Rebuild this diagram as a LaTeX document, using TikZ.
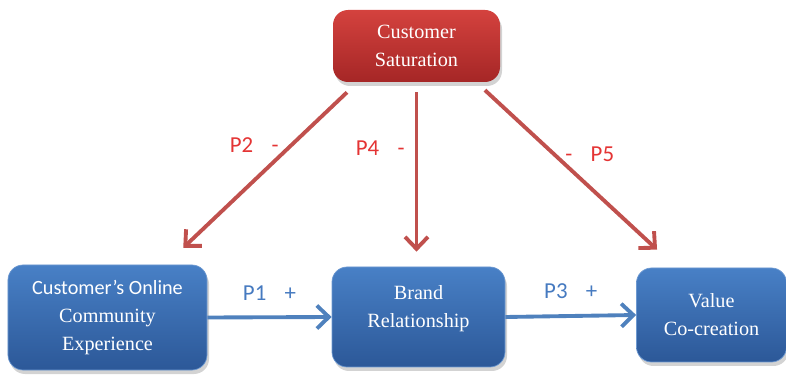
\documentclass[tikz,border=0pt]{standalone}
\usepackage{fontspec}
\setmainfont{Liberation Serif}
\newfontfamily\calibri{Carlito}
\usetikzlibrary{arrows.meta,shadows}

\definecolor{redtop}{RGB}{212,66,62}
\definecolor{redbot}{RGB}{165,38,38}
\definecolor{bluetop}{RGB}{72,128,198}
\definecolor{bluebot}{RGB}{44,88,152}
\definecolor{negred}{RGB}{192,80,77}
\definecolor{posblue}{RGB}{79,129,189}
\definecolor{lblred}{RGB}{228,52,52}
\definecolor{lblblue}{RGB}{70,122,192}

\begin{document}
\begin{tikzpicture}[>={Straight Barb[length=2.4mm,width=4.6mm]},
    box/.style={rounded corners=0.3cm,align=center,text=white,
                font=\fontsize{11.5}{16}\selectfont,
                drop shadow={opacity=0.35,shadow xshift=0.04cm,shadow yshift=-0.08cm}},
    redbox/.style={box,top color=redtop,bottom color=redbot},
    bluebox/.style={box,top color=bluetop,bottom color=bluebot,draw=bluetop!80!white,thin},
    minusarrow/.style={->,line width=2.2pt,color=negred},
    plusarrow/.style={->,line width=2.2pt,color=posblue},
    minuslabel/.style={text=lblred,font=\calibri\fontsize{13}{15}\selectfont,inner sep=0pt},
    pluslabel/.style={text=lblblue,font=\calibri\fontsize{13}{15}\selectfont,inner sep=0pt}]
    \useasboundingbox (0,0) rectangle (15.72,7.5);

    \node [redbox,minimum width=3.34cm,minimum height=1.44cm] (sat) at (8.33,6.58)
          {Customer\\Saturation};
    \node [bluebox,minimum width=3.98cm,minimum height=2.1cm] (coe) at (2.15,1.15)
          {{\calibri Customer’s Online}\\Community\\Experience};
    \node [bluebox,minimum width=3.46cm,minimum height=2.0cm] (brand) at (8.37,1.16)
          {Brand\\Relationship\\[-4pt]\mbox{}};
    \node [bluebox,minimum width=3.0cm,minimum height=1.88cm] (value) at (14.23,1.2)
          {Value\\Co-creation};

    % negative effects of saturation
    \draw [minusarrow,shorten <=0.29cm,shorten >=0.49cm]
          ([xshift=-1.18cm]sat.south)
          -- node [pos=0.344,left=0.22cm,minuslabel] (p2) {P2\hspace{0.8em}-}
          ([xshift=1.16cm]coe.north);
    \draw [minusarrow,shorten <=0.2cm,shorten >=0.3cm]
          (sat.south)
          -- node [pos=0.357,left=0.2cm,minuslabel] (p4) {P4\hspace{0.8em}-}
          (sat.south |- brand.north);
    \draw [minusarrow,shorten <=0.23cm,shorten >=0.53cm]
          ([xshift=1.2cm]sat.south)
          -- node [pos=0.39,right=0.18cm,minuslabel] (p5) {-\hspace{0.8em}P5}
          ([xshift=-0.7cm]value.north);

    % positive effects
    \draw [plusarrow] (coe.east)
          -- node [above=0.3cm,pluslabel] (p1) {P1\hspace{0.8em}+} (brand.west);
    \draw [plusarrow] (brand.east)
          -- node [above=0.3cm,pluslabel] (p3) {P3\hspace{0.8em}+} (value.west);
\end{tikzpicture}
\end{document}
